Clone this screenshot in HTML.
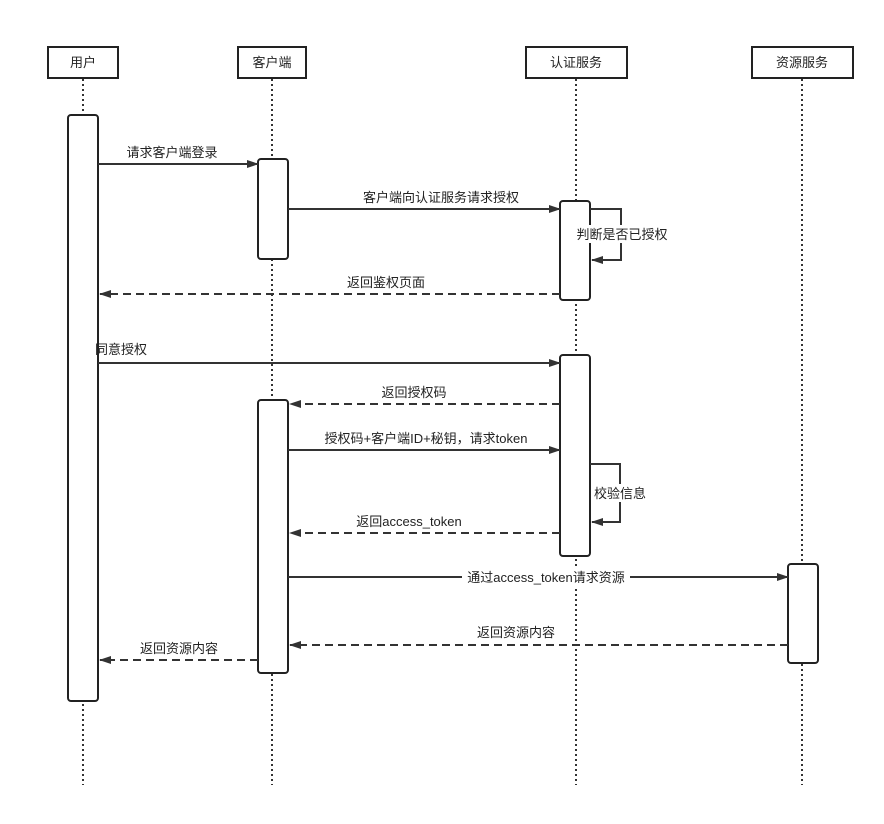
<!DOCTYPE html>
<html><head><meta charset="utf-8"><style>
html,body{margin:0;padding:0;background:#fff}
svg text{font-family:"Liberation Sans","Noto Sans CJK SC",sans-serif;font-size:13px;fill:#222}
</style></head><body>
<svg width="884" height="819" viewBox="0 0 884 819" xmlns="http://www.w3.org/2000/svg">
<defs>
<marker id="a" markerWidth="12" markerHeight="8" refX="11" refY="4" orient="auto" markerUnits="userSpaceOnUse">
<path d="M0,0 L12,4 L0,8 Z" fill="#333"/></marker>
</defs>
<g stroke="#333" stroke-width="2" stroke-dasharray="2,3" fill="none">
<line x1="83" y1="79" x2="83" y2="785"/>
<line x1="272" y1="79" x2="272" y2="785"/>
<line x1="576" y1="79" x2="576" y2="785"/>
<line x1="802" y1="79" x2="802" y2="785"/>
</g>
<g stroke="#222" stroke-width="2" fill="#fff">
<rect x="48" y="47" width="70" height="31"/>
<rect x="238" y="47" width="68" height="31"/>
<rect x="526" y="47" width="101" height="31"/>
<rect x="752" y="47" width="101" height="31"/>
<rect x="68" y="115" width="30" height="586" rx="3"/>
<rect x="258" y="159" width="30" height="100" rx="3"/>
<rect x="560" y="201" width="30" height="99" rx="3"/>
<rect x="560" y="355" width="30" height="201" rx="3"/>
<rect x="258" y="400" width="30" height="273" rx="3"/>
<rect x="788" y="564" width="30" height="99" rx="3"/>
</g>
<g text-anchor="middle">
<text x="83" y="67">用户</text>
<text x="272" y="67">客户端</text>
<text x="576" y="67">认证服务</text>
<text x="802" y="67">资源服务</text>
</g>
<g stroke="#333" stroke-width="2" fill="none" marker-end="url(#a)">
<line x1="98" y1="164" x2="258" y2="164"/>
<line x1="288" y1="209" x2="560" y2="209"/>
<polyline points="590,209 621,209 621,260 592,260"/>
<line x1="560" y1="294" x2="100" y2="294" stroke-dasharray="8,5"/>
<line x1="98" y1="363" x2="560" y2="363"/>
<line x1="560" y1="404" x2="290" y2="404" stroke-dasharray="8,5"/>
<line x1="288" y1="450" x2="560" y2="450"/>
<polyline points="590,464 620,464 620,522 592,522"/>
<line x1="560" y1="533" x2="290" y2="533" stroke-dasharray="8,5"/>
<line x1="288" y1="577" x2="788" y2="577"/>
<line x1="788" y1="645" x2="290" y2="645" stroke-dasharray="8,5"/>
<line x1="258" y1="660" x2="100" y2="660" stroke-dasharray="8,5"/>
</g>
<g fill="#fff">
<rect x="576" y="225" width="92" height="18"/>
<rect x="592" y="484" width="56" height="18"/>
<rect x="462" y="569" width="168" height="17"/>
</g>
<g text-anchor="middle">
<text x="172" y="157">请求客户端登录</text>
<text x="441" y="202">客户端向认证服务请求授权</text>
<text x="622" y="239">判断是否已授权</text>
<text x="386" y="287">返回鉴权页面</text>
<text x="121" y="354">同意授权</text>
<text x="414" y="397">返回授权码</text>
<text x="426" y="443">授权码+客户端ID+秘钥，请求token</text>
<text x="620" y="498">校验信息</text>
<text x="409" y="526">返回access_token</text>
<text x="546" y="582">通过access_token请求资源</text>
<text x="516" y="637">返回资源内容</text>
<text x="179" y="653">返回资源内容</text>
</g>
</svg>
</body></html>
